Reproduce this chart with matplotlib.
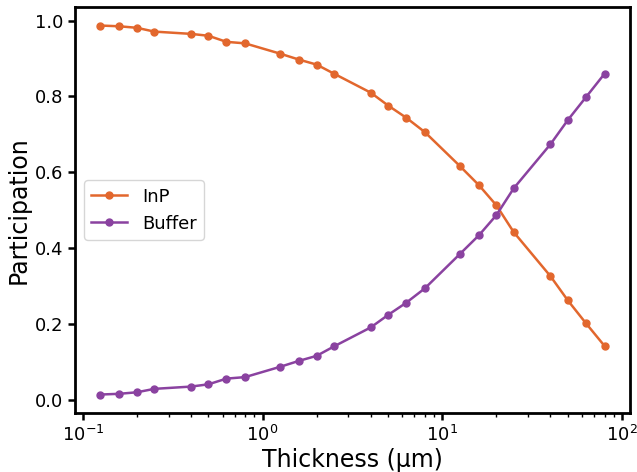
import numpy as np
import matplotlib
matplotlib.use("Agg")
import matplotlib.pyplot as plt

# thickness values (um)
thickness = [0.125, 0.16, 0.2, 0.25, 0.4, 0.5, 0.63, 0.8, 1.25, 1.6, 2.0, 2.5,
             4.0, 5.0, 6.3, 8.0, 12.5, 16.0, 20.0, 25.0, 40.0, 50.0, 63.0, 80.0]
inp = [0.987, 0.985, 0.981, 0.971, 0.965, 0.960, 0.944, 0.940, 0.913, 0.897, 0.884, 0.860,
       0.810, 0.776, 0.744, 0.706, 0.617, 0.566, 0.513, 0.442, 0.326, 0.262, 0.202, 0.142]
buffer = [0.014, 0.016, 0.020, 0.029, 0.035, 0.041, 0.056, 0.060, 0.087, 0.103, 0.116, 0.141,
          0.191, 0.224, 0.256, 0.294, 0.384, 0.434, 0.487, 0.558, 0.674, 0.738, 0.798, 0.860]

fig = plt.figure(figsize=(6.37, 4.72), dpi=100)
ax = fig.add_axes([0.1177, 0.125, 0.871, 0.860])

ax.plot(thickness, inp, marker='o', markersize=5, linewidth=1.8, color='#e2672d', label='InP')
ax.plot(thickness, buffer, marker='o', markersize=5, linewidth=1.8, color='#8a42a0', label='Buffer')
ax.set_xscale('log')

ax.set_xlabel('Thickness (μm)', fontsize=17, labelpad=2)
ax.set_ylabel('Participation', fontsize=17, labelpad=3)
ax.tick_params(axis='both', which='major', labelsize=13, width=1.8, length=5)
ax.tick_params(axis='both', which='minor', width=1.0, length=3)
for s in ax.spines.values():
    s.set_linewidth(2)

ax.legend(loc='center left', fontsize=13)

fig.savefig('out.png', dpi=100)
